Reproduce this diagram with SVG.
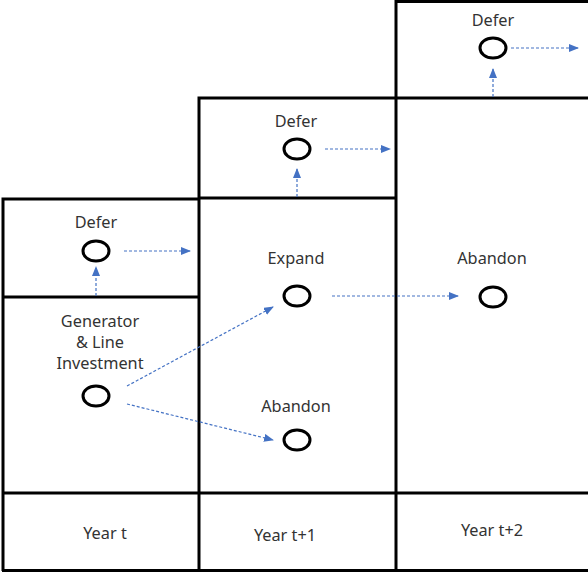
<svg xmlns="http://www.w3.org/2000/svg" width="588" height="573" viewBox="0 0 588 573">
<style>
.frame{fill:none;stroke:#000;stroke-width:3}
.node{fill:none;stroke:#000;stroke-width:3}
.lbl{font-family:"Noto Sans","Open Sans",sans-serif;font-size:16.3px;fill:#333;text-anchor:middle}
.arr{fill:none;stroke:#4472C4;stroke-width:1.2;stroke-dasharray:3 2;marker-end:url(#ah)}
</style>
<defs>
<marker id="ah" markerWidth="10" markerHeight="8" refX="9" refY="4" orient="auto" markerUnits="userSpaceOnUse">
<path d="M0,0 L10,4 L0,8 Z" fill="#4472C4"/>
</marker>
</defs>
<g id="grid">
<polyline class="frame" points="3,571 3,199 199,199"/>
<line class="frame" x1="3" y1="297" x2="199" y2="297"/>
<polyline class="frame" points="199,571 199,98 396,98"/>
<line class="frame" x1="199" y1="198" x2="396" y2="198"/>
<line class="frame" x1="396" y1="0" x2="396" y2="571"/>
<line class="frame" x1="396" y1="1.5" x2="588" y2="1.5"/>
<line class="frame" x1="396" y1="98" x2="588" y2="98"/>
<line class="frame" x1="2" y1="493" x2="588" y2="493"/>
<line class="frame" x1="2" y1="570.5" x2="588" y2="570.5"/>
</g>
<g id="connectors">
<line class="arr" x1="96" y1="296" x2="96" y2="267"/>
<line class="arr" x1="124" y1="251" x2="190" y2="251"/>
<line class="arr" x1="297" y1="197" x2="297" y2="169"/>
<line class="arr" x1="325" y1="149" x2="390" y2="149"/>
<line class="arr" x1="493" y1="97" x2="493" y2="69"/>
<line class="arr" x1="511" y1="48" x2="578" y2="48"/>
<line class="arr" x1="127" y1="386" x2="273" y2="307"/>
<line class="arr" x1="127" y1="404" x2="273" y2="440"/>
<line class="arr" x1="332" y1="296" x2="458" y2="296"/>
</g>
<g id="gen">
<text class="lbl" x="100" y="327">Generator</text>
<text class="lbl" x="100" y="348">&amp; Line</text>
<text class="lbl" x="100" y="369">Investment</text>
<ellipse class="node" cx="96" cy="396" rx="13" ry="10"/>
</g>
<g id="defer1">
<text class="lbl" x="96" y="228">Defer</text>
<ellipse class="node" cx="96" cy="251" rx="13" ry="10"/>
</g>
<g id="defer2">
<text class="lbl" x="296" y="127">Defer</text>
<ellipse class="node" cx="297" cy="149" rx="13" ry="10"/>
</g>
<g id="defer3">
<text class="lbl" x="493" y="26">Defer</text>
<ellipse class="node" cx="493" cy="48" rx="13" ry="10"/>
</g>
<g id="expand">
<text class="lbl" x="296" y="264">Expand</text>
<ellipse class="node" cx="297" cy="296" rx="13" ry="10"/>
</g>
<g id="abandon1">
<text class="lbl" x="296" y="412">Abandon</text>
<ellipse class="node" cx="297" cy="440" rx="13" ry="10"/>
</g>
<g id="abandon2">
<text class="lbl" x="492" y="264">Abandon</text>
<ellipse class="node" cx="493" cy="297" rx="13" ry="10"/>
</g>
<g id="years">
<text class="lbl" x="105" y="539">Year t</text>
<text class="lbl" x="285" y="541">Year t+1</text>
<text class="lbl" x="492" y="536">Year t+2</text>
</g>
</svg>
